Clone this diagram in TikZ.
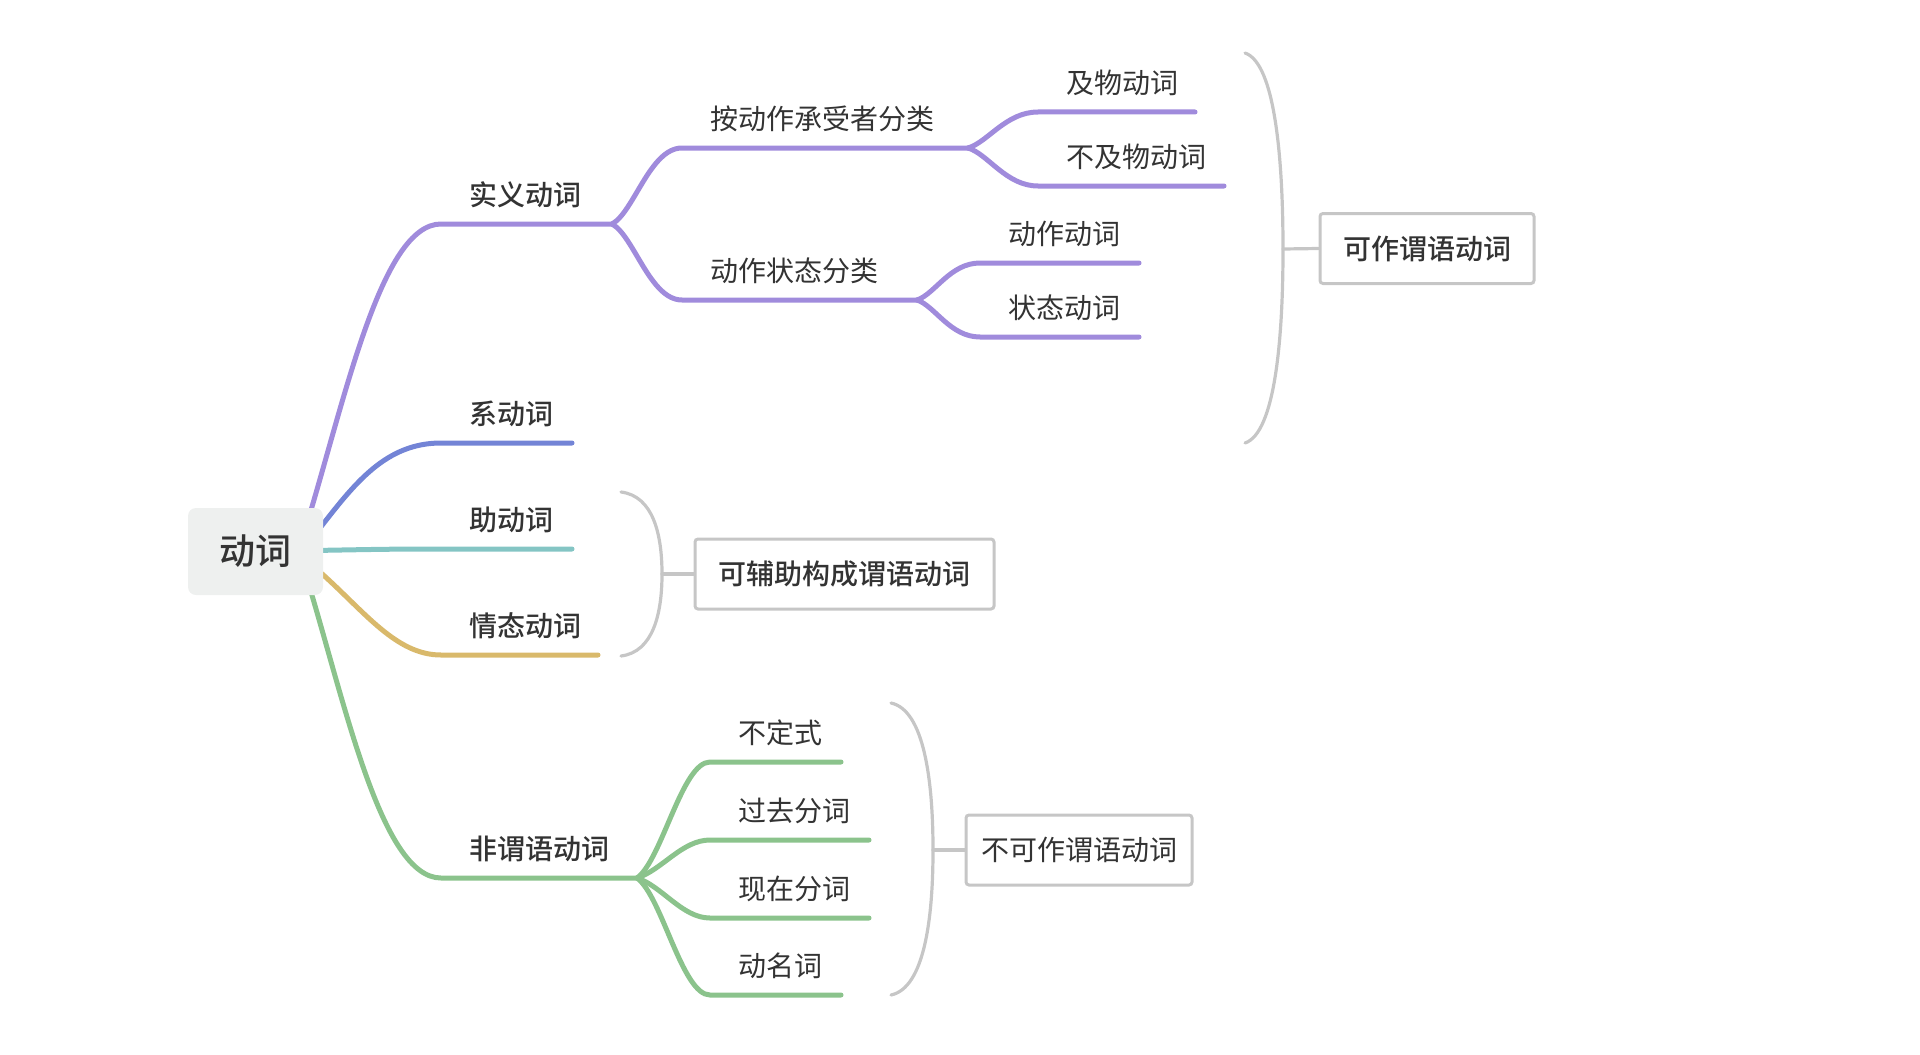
\documentclass[tikz,border=0pt]{standalone}
\usepackage{fontspec}
\setmainfont{Noto Sans CJK SC}[BoldFont={Noto Sans CJK SC Medium}]
\usetikzlibrary{calc, backgrounds}

\definecolor{mindpurple}{HTML}{A08BDC}
\definecolor{mindblue}{HTML}{7384D6}
\definecolor{mindteal}{HTML}{84C5C4}
\definecolor{mindgold}{HTML}{D9B96B}
\definecolor{mindgreen}{HTML}{8BC38C}
\definecolor{bracegray}{HTML}{C6C6C6}
\definecolor{rootgray}{HTML}{EEF0EF}
\definecolor{textgray}{HTML}{333333}

\tikzset{
  branch/.style={line width=2.5pt, line cap=round},
  brace/.style={line width=1.6pt, draw=bracegray, line cap=round},
  lbl/.style={inner sep=0pt, anchor=west, text=textgray,
    font=\fontsize{14}{16}\selectfont},
  boldlbl/.style={lbl, font=\fontsize{14}{16}\selectfont\bfseries},
  sumbox/.style={draw=bracegray, line width=1.5pt, rounded corners=1.5pt,
    fill=white, text=textgray, inner sep=0pt, minimum height=35pt,
    font=\fontsize{14}{16}\selectfont},
  rootbox/.style={fill=rootgray, rounded corners=4pt, text=textgray,
    minimum width=67.5pt, minimum height=43.5pt,
    font=\fontsize{18}{20}\selectfont\bfseries}
}

\begin{document}
\begin{tikzpicture}[x=0.5pt,y=-0.5pt]
\useasboundingbox (0,0) rectangle (1920,1054);

% root
\node[rootbox] (root) at (255.5,551.5) {动词};

% first level
\coordinate (sy-s) at (441,224);
\coordinate (sy-e) at (612,224);
\coordinate (xd-s) at (441,443);
\coordinate (xd-e) at (572,443);
\coordinate (zd-s) at (441,549);
\coordinate (zd-e) at (572,549);
\coordinate (qt-s) at (441,655);
\coordinate (qt-e) at (598,655);
\coordinate (fw-s) at (441,878);
\coordinate (fw-e) at (637,878);

\begin{scope}[on background layer]
\draw[branch, draw=mindpurple] (305,530) .. controls +(40,-130) and +(-60,0) .. (sy-s) -- (sy-e);
\draw[branch, draw=mindblue] (320,528) .. controls +(35,-45) and +(-55,0) .. (xd-s) -- (xd-e);
\draw[branch, draw=mindteal] (root.center) .. controls +(120,-2) and +(-60,0) .. (zd-s) -- (zd-e);
\draw[branch, draw=mindgold] (320,572) .. controls +(45,40) and +(-45,0) .. (qt-s) -- (qt-e);
\draw[branch, draw=mindgreen] (305,572) .. controls +(40,130) and +(-60,0) .. (fw-s) -- (fw-e);
\end{scope}

\node[boldlbl] (sy) at ($(sy-s)+(28,-29.5)$) {实义动词};
\node[boldlbl] (xd) at ($(xd-s)+(28,-29.5)$) {系动词};
\node[boldlbl] (zd) at ($(zd-s)+(28,-29.5)$) {助动词};
\node[boldlbl] (qt) at ($(qt-s)+(28,-29.5)$) {情态动词};
\node[boldlbl] (fw) at ($(fw-s)+(28,-29.5)$) {非谓语动词};

% second level, purple
\coordinate (ad-s) at (682,148);
\coordinate (ad-e) at (968,148);
\coordinate (zt-s) at (682,300);
\coordinate (zt-e) at (917,300);
\draw[branch, draw=mindpurple] (sy-e) .. controls +(22,-12) and +(-32,0) .. (ad-s) -- (ad-e);
\draw[branch, draw=mindpurple] (sy-e) .. controls +(22,12) and +(-32,0) .. (zt-s) -- (zt-e);
\node[lbl] (ad) at ($(ad-s)+(28,-29.5)$) {按动作承受者分类};
\node[lbl] (zt) at ($(zt-s)+(28,-29.5)$) {动作状态分类};

% third level, purple
\coordinate (jw-s) at (1038,112);
\coordinate (jw-e) at (1195,112);
\coordinate (bj-s) at (1038,186);
\coordinate (bj-e) at (1224,186);
\coordinate (dz-s) at (980,263);
\coordinate (dz-e) at (1139,263);
\coordinate (zz-s) at (980,337);
\coordinate (zz-e) at (1139,337);
\draw[branch, draw=mindpurple] (ad-e) .. controls +(20,-6) and +(-32,0) .. (jw-s) -- (jw-e);
\draw[branch, draw=mindpurple] (ad-e) .. controls +(20,6) and +(-32,0) .. (bj-s) -- (bj-e);
\draw[branch, draw=mindpurple] (zt-e) .. controls +(18,-6) and +(-30,0) .. (dz-s) -- (dz-e);
\draw[branch, draw=mindpurple] (zt-e) .. controls +(18,6) and +(-30,0) .. (zz-s) -- (zz-e);
\node[lbl] (jw) at ($(jw-s)+(28,-29.5)$) {及物动词};
\node[lbl] (bj) at ($(bj-s)+(28,-29.5)$) {不及物动词};
\node[lbl] (dz) at ($(dz-s)+(28,-29.5)$) {动作动词};
\node[lbl] (zz) at ($(zz-s)+(28,-29.5)$) {状态动词};

% second level, green
\foreach \y/\e/\c/\txt [count=\i] in {762/841/-18/不定式, 840/869/-8/过去分词,
    918/869/8/现在分词, 995/841/18/动名词} {
  \coordinate (fw\i-s) at (710,\y);
  \coordinate (fw\i-e) at (\e,\y);
  \draw[branch, draw=mindgreen] (fw-e) .. controls +(25,\c) and +(-28,0) .. (fw\i-s) -- (fw\i-e);
  \node[lbl] (fw\i) at ($(fw\i-s)+(28,-29.5)$) {\txt};
}

% summaries
\coordinate (b1-top) at (1245,53);
\coordinate (b1-mid) at (1283,249);
\coordinate (b1-bot) at (1245,443);
\node[sumbox, minimum width=107pt, font=\fontsize{14}{16}\selectfont\bfseries]
  (kz) at (1427,248.5) {可作谓语动词};
\draw[brace] (b1-top) .. controls +(30,10) and +(0,-90) .. (b1-mid)
  .. controls +(0,90) and +(30,-10) .. (b1-bot);
\draw[brace] (b1-mid) -- (kz.west);

\coordinate (b2-top) at (621,492);
\coordinate (b2-mid) at (662,574);
\coordinate (b2-bot) at (621,656);
\node[sumbox, minimum width=149.5pt, font=\fontsize{14}{16}\selectfont\bfseries]
  (kf) at (844.5,574) {可辅助构成谓语动词};
\draw[brace] (b2-top) .. controls +(32,4) and +(0,-40) .. (b2-mid)
  .. controls +(0,40) and +(32,-4) .. (b2-bot);
\draw[brace] (b2-mid) -- (kf.west);

\coordinate (b3-top) at (891,703);
\coordinate (b3-mid) at (933,850);
\coordinate (b3-bot) at (891,995);
\node[sumbox, minimum width=113pt] (bk) at (1079,850) {不可作谓语动词};
\draw[brace] (b3-top) .. controls +(33,7) and +(0,-70) .. (b3-mid)
  .. controls +(0,70) and +(33,-7) .. (b3-bot);
\draw[brace] (b3-mid) -- (bk.west);
\end{tikzpicture}
\end{document}
